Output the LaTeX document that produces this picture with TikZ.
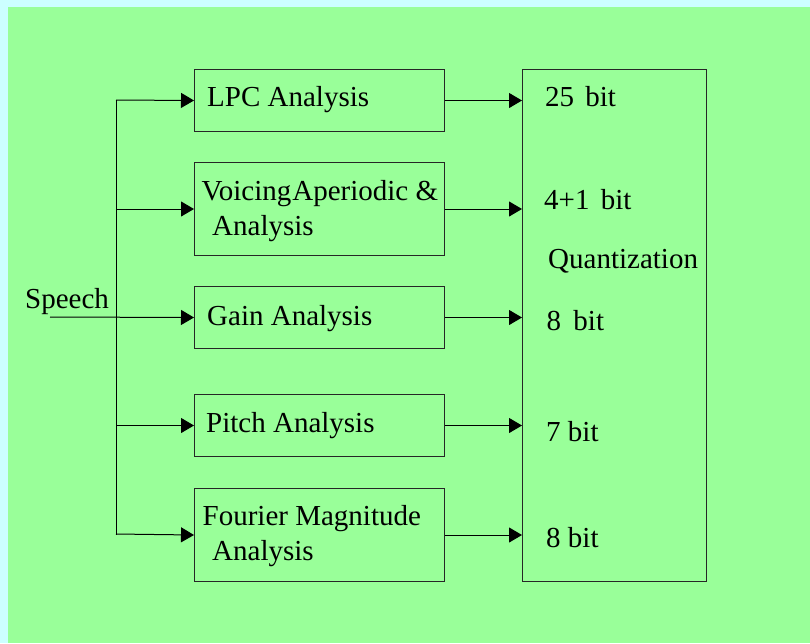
\documentclass[tikz,border=0pt]{standalone}
\usepackage{fontspec}
\setmainfont{Liberation Serif}
\usetikzlibrary{arrows.meta}
\definecolor{framecyan}{HTML}{CCFFFF}
\definecolor{panelgreen}{HTML}{99FF99}
\begin{document}
\begin{tikzpicture}[x=1pt,y=-1pt,
  font=\fontsize{29}{34}\selectfont,
  blk/.style={draw=black!85, line width=1pt, anchor=north west, inner sep=0pt},
  lbl/.style={anchor=base west, inner sep=0pt},
  wire/.style={draw=black, line width=1pt, line cap=rect},
  arr/.style={draw=black, line width=1pt, -{Triangle[length=13pt,width=15pt]}}]
  % background and panel
  \fill[framecyan] (0,0) rectangle (810,643);
  \fill[panelgreen] (8,7) rectangle (810,643);
  \useasboundingbox (0,0) rectangle (810,643);

  % analysis blocks
  \node[blk, minimum width=250pt, minimum height=62pt] (lpc) at (194,69) {};
  \node[blk, minimum width=250pt, minimum height=93pt] (voi) at (194,162) {};
  \node[blk, minimum width=250pt, minimum height=62pt] (gain) at (194,286) {};
  \node[blk, minimum width=250pt, minimum height=62pt] (pitch) at (194,394) {};
  \node[blk, minimum width=250pt, minimum height=93pt] (four) at (194,488) {};

  % quantization block
  \node[blk, minimum width=184pt, minimum height=512pt] (quant) at (522,69) {};

  % block labels
  \node[lbl] (lpct) at (207,106.5) {LPC Analysis};
  \node[lbl] (voit1) at (201.5,200.5) {Voicing\hspace{1pt}Aperiodic \&};
  \node[lbl] (voit2) at (212,235) {Analysis};
  \node[lbl] (gaint) at (207,325) {Gain Analysis};
  \node[lbl] (pitcht) at (206,432) {Pitch Analysis};
  \node[lbl] (fourt1) at (202.5,525.5) {Fourier Magnitude};
  \node[lbl] (fourt2) at (212,560.5) {Analysis};

  % bit allocations
  \node[lbl] (b1) at (545,106.5) {25\hspace{4pt} bit};
  \node[lbl] (b2) at (544,209) {4+1\hspace{4pt} bit};
  \node[lbl] (qt) at (548,268) {Quantization};
  \node[lbl] (b3) at (546.5,330) {8\hspace{5pt} bit};
  \node[lbl] (b4) at (546,441.5) {7 bit};
  \node[lbl] (b5) at (546,547.5) {8 bit};

  % speech input
  \node[lbl] (sp) at (25,308) {Speech};
  \coordinate (spin) at (50,317);
  \coordinate (bustop) at (116,100);
  \coordinate (busbot) at (116,534);

  % distribution bus
  \draw[wire] (bustop) -- (busbot);
  \draw[arr] (bustop) -- (lpc.west);
  \draw[arr] (voi.west -| bustop) -- (voi.west);
  \draw[arr] (spin) -- (gain.west);
  \draw[arr] (pitch.west -| bustop) -- (pitch.west);
  \draw[arr] (busbot) -- (four.west);

  % outputs to quantization
  \draw[arr] (lpc.east) -- (lpc.east -| quant.west);
  \draw[arr] (voi.east) -- (voi.east -| quant.west);
  \draw[arr] (gain.east) -- (gain.east -| quant.west);
  \draw[arr] (pitch.east) -- (pitch.east -| quant.west);
  \draw[arr] (four.east) -- (four.east -| quant.west);
\end{tikzpicture}
\end{document}
